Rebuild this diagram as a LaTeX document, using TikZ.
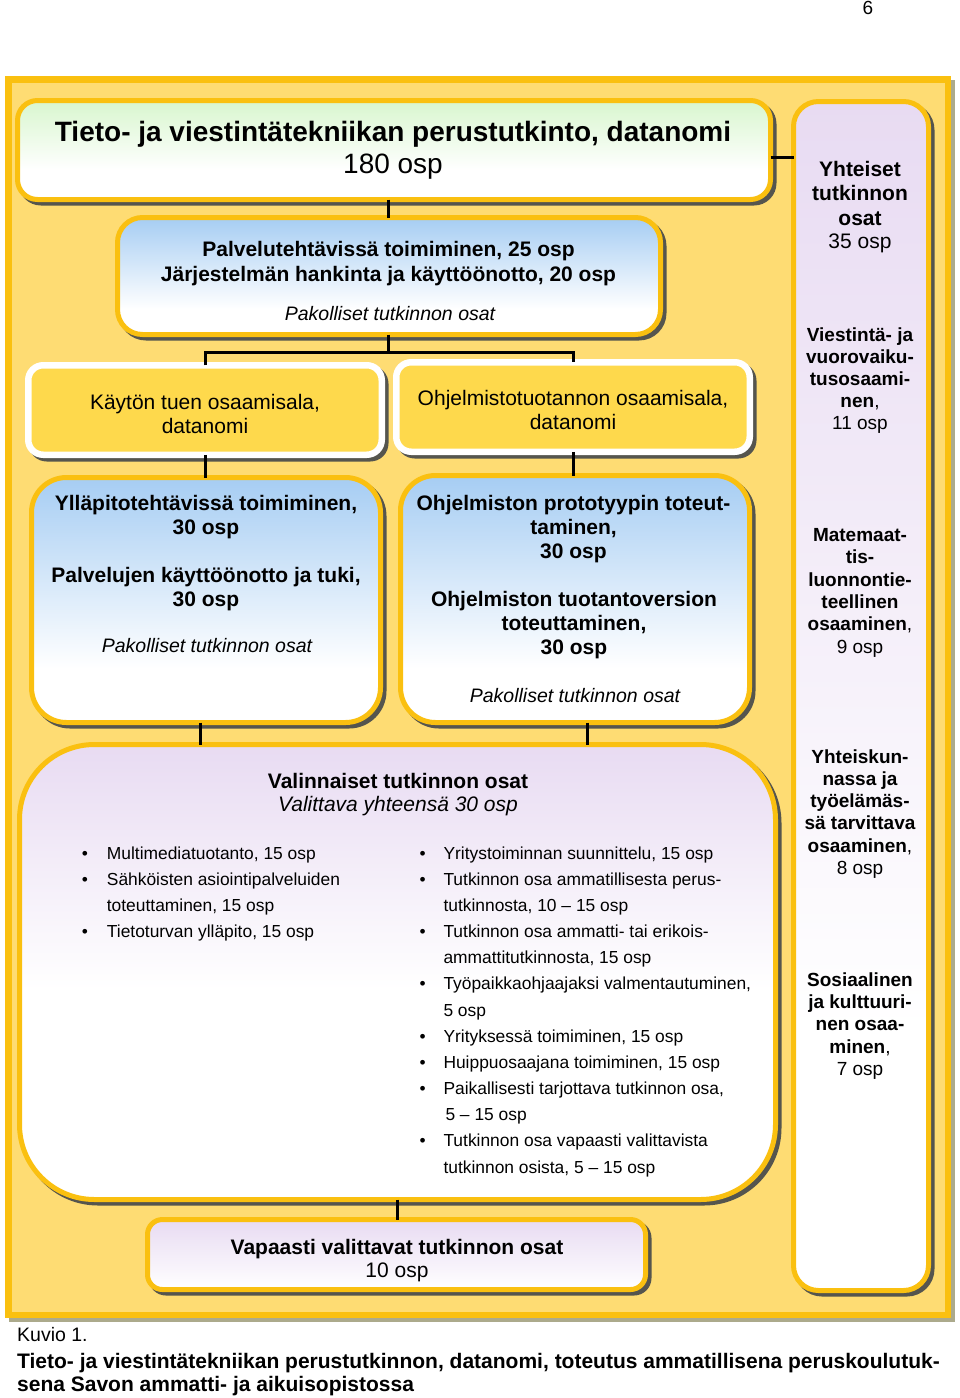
\documentclass[tikz,border=0pt]{standalone}
\usepackage{fontspec}
\setmainfont{Liberation Sans}
\usetikzlibrary{shadows}
\definecolor{gold}{RGB}{250,192,16}
\definecolor{panel}{RGB}{254,220,115}
\definecolor{panelsh}{RGB}{172,170,140}
\definecolor{shgray}{RGB}{85,85,78}
\definecolor{yfill}{RGB}{254,217,76}
\definecolor{greentop}{RGB}{216,246,206}
\definecolor{bluetop}{RGB}{166,205,243}
\definecolor{lavtop}{RGB}{232,219,242}
\pgfdeclareverticalshading{titlesh}{100bp}{color(0bp)=(white); color(25bp)=(white); color(40bp)=(white); color(75bp)=(greentop); color(100bp)=(greentop)}
\pgfdeclareverticalshading{bluesh}{100bp}{color(0bp)=(white); color(25bp)=(white); color(36bp)=(white); color(75bp)=(bluetop); color(100bp)=(bluetop)}
\pgfdeclareverticalshading{lavsh}{100bp}{color(0bp)=(white); color(25bp)=(white); color(36bp)=(white); color(75bp)=(lavtop); color(100bp)=(lavtop)}
\pgfdeclareverticalshading{valsh}{100bp}{color(0bp)=(white); color(25bp)=(white); color(48bp)=(white); color(75bp)=(lavtop); color(100bp)=(lavtop)}
\pgfdeclareverticalshading{vapsh}{100bp}{color(0bp)=(white); color(25bp)=(white); color(75bp)=(lavtop); color(100bp)=(lavtop)}
\tikzset{
  gbox/.style={draw=gold, line width=5pt, inner sep=0pt, outer sep=0pt, shade, shading=#1,
    drop shadow={shadow xshift=3.5pt, shadow yshift=-3.5pt, fill=shgray, draw=shgray, line width=5pt, opacity=1}},
  ybox/.style={draw=white, line width=6.5pt, inner sep=0pt, outer sep=0pt, fill=yfill, rounded corners=15pt,
    drop shadow={shadow xshift=3.5pt, shadow yshift=-3.5pt, fill=shgray, draw=shgray, line width=6.5pt, opacity=1}},
  conn/.style={line width=3pt, black},
  T/.style={anchor=base, inner sep=0pt},
  b28/.style={T, font=\fontsize{28}{32}\selectfont\bfseries},
  r28/.style={T, font=\fontsize{28}{32}\selectfont},
  b21/.style={T, font=\fontsize{21}{24}\selectfont\bfseries},
  r21/.style={T, font=\fontsize{21}{24}\selectfont},
  i21/.style={T, font=\fontsize{21}{24}\selectfont\itshape},
  i20/.style={T, font=\fontsize{19.5}{23}\selectfont\itshape},
  b19/.style={T, font=\fontsize{19}{22}\selectfont\bfseries},
  r19/.style={T, font=\fontsize{19}{22}\selectfont},
  bl/.style={T, anchor=base west, font=\fontsize{17.4}{20}\selectfont},
  bd/.style={T, font=\fontsize{17.4}{20}\selectfont},
}
\begin{document}
\begin{tikzpicture}[x=1pt,y=-1pt]
\useasboundingbox[fill=white] (0,0) rectangle (960,1398);
% panel
\node[draw=gold, fill=panel, line width=6.5pt, inner sep=0pt, outer sep=0pt,
  minimum width=939.5pt, minimum height=1235.5pt,
  drop shadow={shadow xshift=4pt, shadow yshift=-4pt, fill=panelsh, draw=panelsh, line width=6.5pt, opacity=1}]
  (panel) at (478,697) {};
% boxes
\node[gbox=titlesh, rounded corners=20pt, minimum width=753pt, minimum height=99pt] (title) at (394,150) {};
\node[gbox=bluesh, rounded corners=25pt, minimum width=543pt, minimum height=117pt] (box2) at (389,276) {};
\node[gbox=lavsh, rounded corners=25pt, minimum width=135pt, minimum height=1189pt] (yh) at (861,696) {};
\node[ybox, minimum width=353.5pt, minimum height=89.5pt] (kay) at (205,410) {};
\node[ybox, minimum width=353.5pt, minimum height=89.5pt] (ohj) at (573,407) {};
\node[gbox=bluesh, rounded corners=35pt, minimum width=349pt, minimum height=245pt] (yll) at (206,600) {};
\node[gbox=bluesh, rounded corners=35pt, minimum width=349pt, minimum height=247pt] (pro) at (575,599) {};
\node[gbox=valsh, rounded corners=75pt, minimum width=756pt, minimum height=455pt] (val) at (397.5,972) {};
\node[gbox=vapsh, rounded corners=15pt, minimum width=498pt, minimum height=70pt] (vap) at (396.5,1254.5) {};
% connectors
\coordinate (x388) at (388,0);
\coordinate (y157) at (0,157);
\coordinate (j) at (388,352);
\coordinate (x200) at (200,0);
\coordinate (x587) at (587,0);
\coordinate (x397) at (397,0);
\draw[conn] (title.south -| x388) -- (box2.north -| x388);
\draw[conn] (title.east |- y157) -- (yh.west |- y157);
\draw[conn] (box2.south -| j) -- (j);
\draw[conn] (kay.north) -- (kay.north |- j) -- (ohj.north |- j) -- (ohj.north);
\draw[conn] (kay.south) -- (yll.north -| kay.south);
\draw[conn] (ohj.south) -- (pro.north -| ohj.south);
\draw[conn] (yll.south -| x200) -- (val.north -| x200);
\draw[conn] (pro.south -| x587) -- (val.north -| x587);
\draw[conn] (val.south -| x397) -- (vap.north -| x397);
% texts
\node[r19] (pnum) at (868,14) {6};
\node[b28] (t1) at (393,141.5) {Tieto- ja viestintätekniikan perustutkinto, datanomi};
\node[r28] (t2) at (393,173) {180 osp};
\node[b21] (p1) at (388.5,256.5) {Palvelutehtävissä toimiminen, 25 osp};
\node[b21] (p2) at (388.5,281.5) {Järjestelmän hankinta ja käyttöönotto, 20 osp};
\node[i20] (p3) at (390,320) {Pakolliset tutkinnon osat};
\node[r21] (k1) at (205,409) {Käytön tuen osaamisala,};
\node[r21] (k2) at (205,433) {datanomi};
\node[r21] (o1) at (573,405) {Ohjelmistotuotannon osaamisala,};
\node[r21] (o2) at (573,429) {datanomi};
\node[b21] (y1) at (206,510) {Ylläpitotehtävissä toimiminen,};
\node[b21] (y2) at (206,534) {30 osp};
\node[b21] (y3) at (206,582) {Palvelujen käyttöönotto ja tuki,};
\node[b21] (y4) at (206,606) {30 osp};
\node[i20] (y5) at (207,652) {Pakolliset tutkinnon osat};
\node[b21] (q1) at (573.5,510) {Ohjelmiston prototyypin toteut-};
\node[b21] (q2) at (573.5,534) {taminen,};
\node[b21] (q3) at (573.5,558) {30 osp};
\node[b21] (q4) at (574,606.5) {Ohjelmiston tuotantoversion};
\node[b21] (q5) at (574,630.5) {toteuttaminen,};
\node[b21] (q6) at (574,654.5) {30 osp};
\node[i20] (q7) at (575,702) {Pakolliset tutkinnon osat};
% right column
\node[b21] (h1) at (860,176.5) {Yhteiset};
\node[b21] (h2) at (860,200.5) {tutkinnon};
\node[b21] (h3) at (860,225) {osat};
\node[r21] (h4) at (860,248.5) {35 osp};
\foreach \t [count=\i from 0] in {{\bfseries Viestintä- ja}, {\bfseries vuorovaiku-}, {\bfseries tusosaami-}, {{\bfseries nen},}, 11 osp}
  \node[r19] (ga\i) at (860,{341+\i*22}) {\t};
\foreach \t [count=\i from 0] in {{\bfseries Matemaat-}, {\bfseries tis-}, {\bfseries luonnontie-}, {\bfseries teellinen}, {{\bfseries osaaminen},}, 9 osp}
  \node[r19] (gb\i) at (860,{541.5+\i*22.3}) {\t};
\foreach \t [count=\i from 0] in {{\bfseries Yhteiskun-}, {\bfseries nassa ja}, {\bfseries työelämäs-}, {\bfseries sä tarvittava}, {{\bfseries osaaminen},}, 8 osp}
  \node[r19] (gc\i) at (860,{763+\i*22.3}) {\t};
\foreach \t [count=\i from 0] in {{\bfseries Sosiaalinen}, {\bfseries ja kulttuuri-}, {\bfseries nen osaa-}, {{\bfseries minen},}, 7 osp}
  \node[r19] (gd\i) at (860,{986.5+\i*22.2}) {\t};
% valinnaiset
\node[b21] (v1) at (398,788) {Valinnaiset tutkinnon osat};
\node[i21] (v2) at (398,811.5) {Valittava yhteensä 30 osp};
\foreach \b/\t [count=\i from 0] in {1/{Multimediatuotanto, 15 osp}, 1/{Sähköisten asiointipalveluiden}, 0/{toteuttaminen, 15 osp}, 1/{Tietoturvan ylläpito, 15 osp}}{
  \node[bl] (la\i) at (106.7,{859+\i*26.3}) {\t};
  \ifnum\b=1 \node[bd] (lb\i) at (85,{859+\i*26.3}) {•}; \fi
}
\foreach \b/\t [count=\i from 0] in {1/{Yritystoiminnan suunnittelu, 15 osp}, 1/{Tutkinnon osa ammatillisesta perus-}, 0/{tutkinnosta, 10 – 15 osp}, 1/{Tutkinnon osa ammatti- tai erikois-}, 0/{ammattitutkinnosta, 15 osp}, 1/{Työpaikkaohjaajaksi valmentautuminen,}, 0/{5 osp}, 1/{Yrityksessä toimiminen, 15 osp}, 1/{Huippuosaajana toimiminen, 15 osp}, 1/{Paikallisesti tarjottava tutkinnon osa,}, 0/{\hspace{2pt}5 – 15 osp}, 1/{Tutkinnon osa vapaasti valittavista}, 0/{tutkinnon osista, 5 – 15 osp}}{
  \node[bl] (ra\i) at (443.3,{859+\i*26.17}) {\t};
  \ifnum\b=1 \node[bd] (rb\i) at (422.7,{859+\i*26.17}) {•}; \fi
}
% vapaasti
\node[b21] (w1) at (397,1254) {Vapaasti valittavat tutkinnon osat};
\node[r21] (w2) at (397,1277) {10 osp};
% caption
\node[T, anchor=base west, font=\fontsize{19.5}{23}\selectfont] (c1) at (17,1341.7) {Kuvio 1.};
\node[T, anchor=base west, font=\fontsize{21}{24}\selectfont\bfseries] (c2) at (17,1368) {Tieto- ja viestintätekniikan perustutkinnon, datanomi, toteutus ammatillisena peruskoulutuk-};
\node[T, anchor=base west, font=\fontsize{21}{24}\selectfont\bfseries] (c3) at (17,1391.5) {sena Savon ammatti- ja aikuisopistossa};
\end{tikzpicture}
\end{document}
